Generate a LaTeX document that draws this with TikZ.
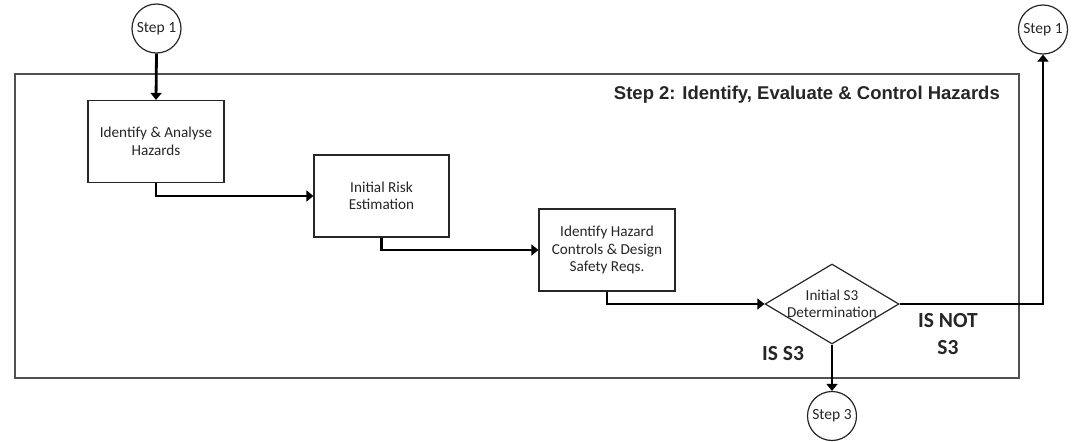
\documentclass[tikz,border=0pt]{standalone}
\usepackage{fontspec}
\setmainfont{Carlito}
\newfontfamily\titlefont{Liberation Sans}
\usetikzlibrary{shapes.geometric,arrows.meta}
\definecolor{ink}{HTML}{262626}
\definecolor{frameline}{HTML}{505050}
\begin{document}
\begin{tikzpicture}[x=1pt,y=-1pt,
  every node/.style={text=ink},
  stepbox/.style={draw=ink, line width=1.2pt, rectangle, minimum width=136pt,
    minimum height=82pt, inner sep=0pt, align=center,
    font=\fontsize{15.2}{17.5}\selectfont},
  connector/.style={circle, draw=ink, line width=1.2pt, minimum size=49pt,
    inner sep=0pt, font=\fontsize{15.5}{17}\selectfont},
  decision/.style={diamond, draw=ink, line width=1.2pt, minimum width=134pt,
    minimum height=80pt, inner sep=0pt},
  flow/.style={draw=black, line width=2.8pt,
    -{Triangle[length=7pt,width=11pt]}},
  outcome/.style={font=\fontsize{21.5}{27}\selectfont\bfseries, align=center,
    inner sep=0pt}
]
\useasboundingbox (0,0) rectangle (1072,442);

% process frame for step 2
\draw[frameline, line width=1.4pt] (15,74) rectangle (1019,378);
\node[anchor=base east, inner sep=0pt,
  font=\titlefont\fontsize{18.5}{21}\selectfont\bfseries] (title)
  at (1000,99) {Step 2: Identify, Evaluate \& Control Hazards};

% off-page connectors
\node[connector] (s1in)  at (156.5,28.5) {Step 1};
\node[connector] (s1out) at (1043,29.5)  {Step 1};
\node[connector] (s3)    at (832,416)    {Step 3};

% process steps
\node[stepbox] (b1) at (156,141.5) {Identify \& Analyse\\Hazards};
\node[stepbox, minimum width=135pt] (b2) at (381.5,196) {Initial Risk\\Estimation};
\node[stepbox] (b3) at (607,250) {Identify Hazard\\Controls \& Design\\Safety Reqs.};

% decision
\node[decision] (dec) at (832,304) {};
\node[align=center, inner sep=0pt, font=\fontsize{15.2}{17.5}\selectfont] (dectext)
  at (dec.center) {Initial S3\\Determination};

% outcome labels
\node[outcome] (yes) at (783,353.5) {IS S3};
\node[outcome] (no)  at (948,334.5) {IS NOT\\S3};

% flow
\draw[flow] (s1in.south) -- (b1.north);
\draw[flow] (b1.south) |- (b2.west);
\draw[flow] (b2.south) |- (b3.west);
\draw[flow] (b3.south) |- (dec.west);
\draw[flow] (dec.south) -- (s3.north);
\draw[flow] (dec.east) -| (s1out.south);
\end{tikzpicture}
\end{document}
